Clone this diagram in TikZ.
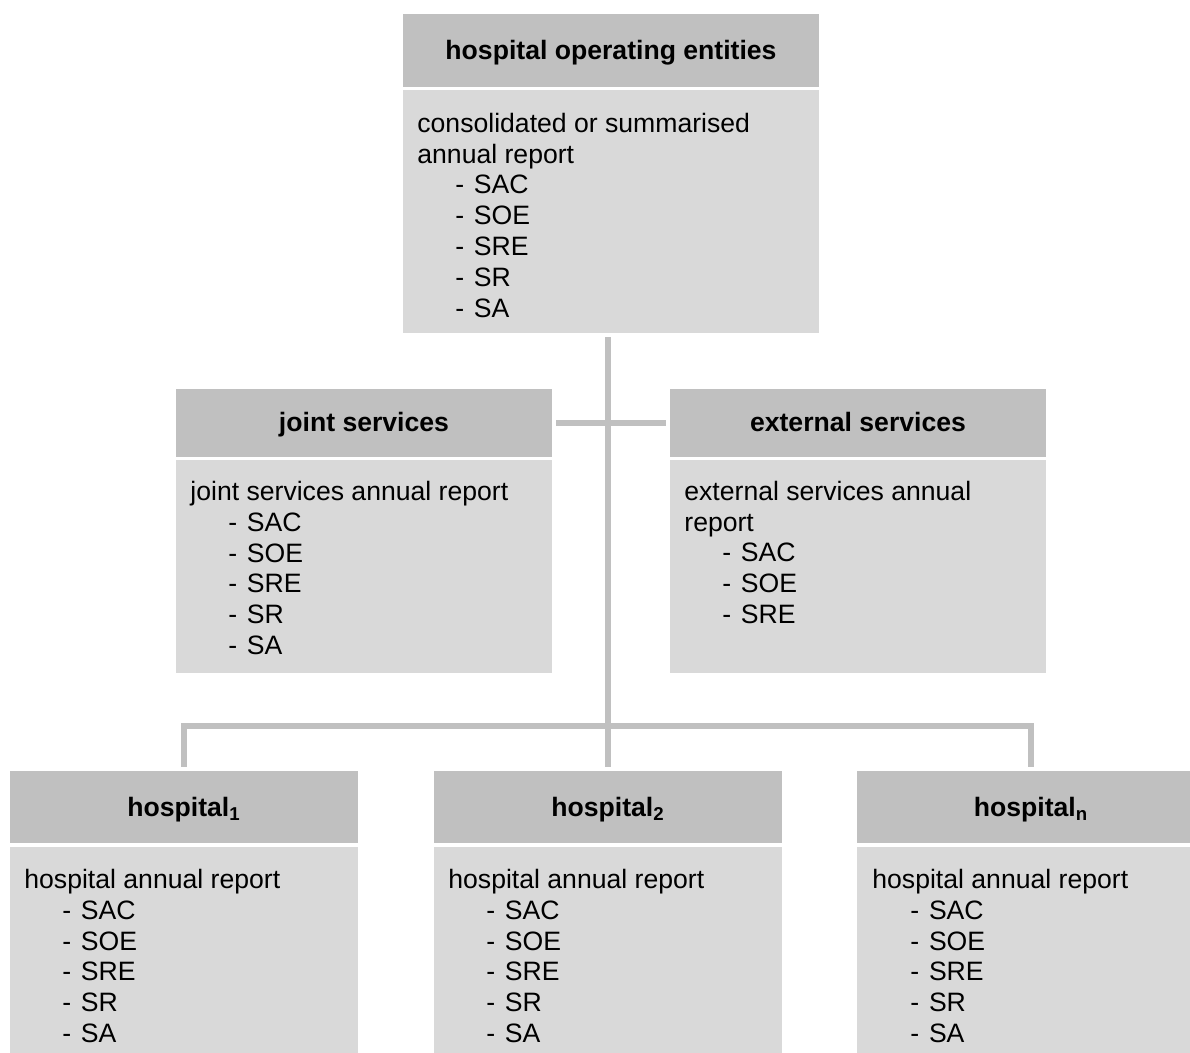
\documentclass[tikz,border=0pt]{standalone}
\usepackage{fontspec}
\setmainfont{Liberation Sans}
\definecolor{hdrgray}{HTML}{C0C0C0}
\definecolor{bodygray}{HTML}{D9D9D9}
\definecolor{linegray}{HTML}{C0C0C0}
\newcommand\itm[1]{\hspace*{19pt}\makebox[9.3pt][l]{-}#1}
\newcommand\firstline{\rule{0pt}{10pt}}
\tikzset{
  hdr/.style={fill=hdrgray, draw=none, inner sep=0pt,
    font=\fontsize{13.3pt}{15.4pt}\selectfont\bfseries,
    text height=9.5pt, text depth=0.5pt},
  bodybox/.style={fill=bodygray, draw=none, inner sep=0pt},
  bodytext/.style={anchor=north west, inner sep=0pt, align=left,
    font=\fontsize{13.3pt}{15.4pt}\selectfont},
  link/.style={draw=linegray, line width=3pt, shorten >=2pt, shorten <=2pt}
}
\begin{document}
\begin{tikzpicture}[x=0.5pt,y=-0.5pt]
\useasboundingbox (0,0) rectangle (1190,1053);
\clip (0,0) rectangle (1190,1053);
\fill[white] (0,0) rectangle (1190,1053);

% top box
\node[hdr, minimum width=208pt, minimum height=36.5pt] (tophdr) at (611,50.5) {hospital operating entities};
\node[bodybox, minimum width=208pt, minimum height=121.5pt] (topbody) at (611,211.5) {};
\node[bodytext] (toptext) at (417,112) {\firstline consolidated or summarised\\annual report\\\itm{SAC}\\\itm{SOE}\\\itm{SRE}\\\itm{SR}\\\itm{SA}};

% joint services
\node[hdr, minimum width=188pt, minimum height=34pt] (jshdr) at (364,423) {joint services};
\node[bodybox, minimum width=188pt, minimum height=106.5pt] (jsbody) at (364,566.5) {};
\node[bodytext] (jstext) at (190,480) {\firstline joint services annual report\\\itm{SAC}\\\itm{SOE}\\\itm{SRE}\\\itm{SR}\\\itm{SA}};

% external services
\node[hdr, minimum width=188pt, minimum height=34pt] (eshdr) at (858,423) {external services};
\node[bodybox, minimum width=188pt, minimum height=106.5pt] (esbody) at (858,566.5) {};
\node[bodytext] (estext) at (684,480) {\firstline external services annual\\report\\\itm{SAC}\\\itm{SOE}\\\itm{SRE}};

% hospitals
\node[hdr, minimum width=174pt, minimum height=36pt] (h1hdr) at (184,807) {hospital\textsubscript{1}};
\node[bodybox, minimum width=174pt, minimum height=105.5pt] (h1body) at (184,952.5) {};
\node[bodytext] (h1text) at (24,868) {\firstline hospital annual report\\\itm{SAC}\\\itm{SOE}\\\itm{SRE}\\\itm{SR}\\\itm{SA}};

\node[hdr, minimum width=174pt, minimum height=36pt] (h2hdr) at (608,807) {hospital\textsubscript{2}};
\node[bodybox, minimum width=174pt, minimum height=105.5pt] (h2body) at (608,952.5) {};
\node[bodytext] (h2text) at (448,868) {\firstline hospital annual report\\\itm{SAC}\\\itm{SOE}\\\itm{SRE}\\\itm{SR}\\\itm{SA}};

\node[hdr, minimum width=174pt, minimum height=36pt] (hnhdr) at (1031,807) {hospital\textsubscript{n}};
\node[bodybox, minimum width=174pt, minimum height=105.5pt] (hnbody) at (1031,952.5) {};
\node[bodytext] (hntext) at (872,868) {\firstline hospital annual report\\\itm{SAC}\\\itm{SOE}\\\itm{SRE}\\\itm{SR}\\\itm{SA}};

% connectors
\coordinate (bus) at (608,726);
\draw[link] (h2hdr.north |- topbody.south) -- (h2hdr.north);
\draw[link] (jshdr.east) -- (eshdr.west);
\draw[link] (h1hdr.north) |- (bus) -| (hnhdr.north);
\end{tikzpicture}
\end{document}
